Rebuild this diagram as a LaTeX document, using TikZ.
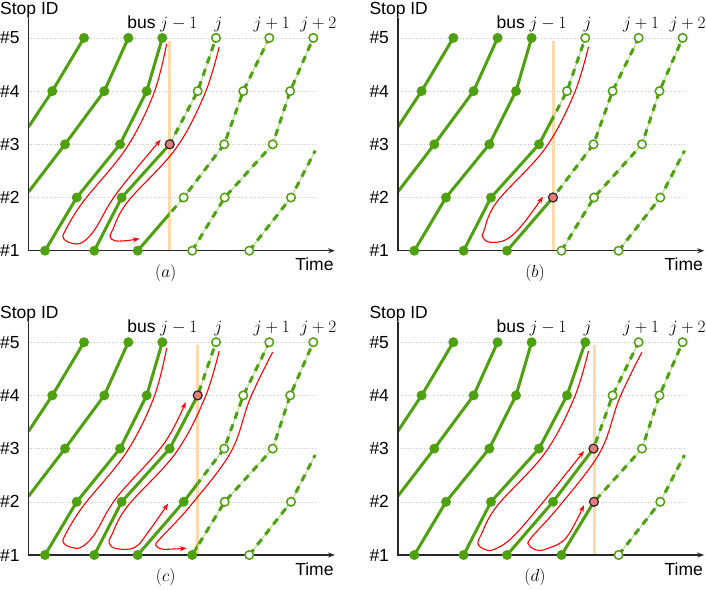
\documentclass[tikz,border=0pt]{standalone}
\usepackage[no-math]{fontspec}
\setmainfont{Liberation Sans}
\usetikzlibrary{arrows.meta}
\definecolor{busgreen}{RGB}{78,160,14}
\definecolor{lightgreen}{RGB}{170,215,130}
\definecolor{cutorange}{RGB}{251,218,172}
\definecolor{dotred}{RGB}{232,124,124}
\definecolor{gridgray}{RGB}{205,205,205}
\definecolor{axisgray}{RGB}{40,40,40}
\def\lev{53.2}
\def\pts{t1-4/23.6/4, t1-5/55.3/5, t2-3/36.3/3, t2-4/75.6/4, t2-5/99.6/5, t3-1/16.3/1, t3-2/48/2, t3-3/91.3/3, t3-4/118/4, t3-5/133.6/5, t4-1/65.6/1, t4-2/93/2, t4-3/141/3, t4-4/169/4, t4-5/187.3/5, t5-1/109/1, t5-2/155/2, t5-3/195.5/3, t5-4/214.6/4, t5-5/240.6/5, t6-1/163.5/1, t6-2/196/2, t6-3/244/3, t6-4/261.5/4, t6-5/284.6/5, t7-1/220.6/1, t7-2/262.3/2}
\tikzset{
  traj/.style={line width=3pt, draw=busgreen, line cap=round, line join=round},
  planunder/.style={line width=0.9pt, draw=lightgreen},
  plandash/.style={line width=3pt, draw=busgreen, dash pattern=on 7pt off 6pt},
  fdot/.style={circle, fill=busgreen, inner sep=0pt, minimum size=10pt},
  odot/.style={circle, draw=busgreen, fill=white, line width=1.5pt, inner sep=0pt, minimum size=8.5pt},
  rdot/.style={circle, draw=black!85, fill=dotred, line width=1.2pt, inner sep=0pt, minimum size=9pt},
  gridline/.style={draw=gridgray, line width=0.6pt, dotted},
  cutline/.style={draw=cutorange, line width=3pt},
  axisline/.style={draw=axisgray, line width=1.2pt, -{Stealth[length=7pt,width=5pt]}},
  redpath/.style={draw=red, line width=1.1pt, -{Stealth[length=7pt,width=5pt]}},
  txt/.style={inner sep=0pt, font=\fontsize{17.5}{20}\selectfont},
  mth/.style={inner sep=0pt, font=\fontsize{16}{19}\selectfont},
  capt/.style={inner sep=0pt, font=\fontsize{18}{20}\selectfont},
}
\newcommand\trips[2]{%
  \draw[#2] (#1-t1-s) -- (#1-t1-4) -- (#1-t1-5);
  \draw[#2] (#1-t2-s) -- (#1-t2-3) -- (#1-t2-4) -- (#1-t2-5);
  \draw[#2] (#1-t3-1) -- (#1-t3-2) -- (#1-t3-3) -- (#1-t3-4) -- (#1-t3-5);
  \draw[#2] (#1-t4-1) -- (#1-t4-2) -- (#1-t4-3) -- (#1-t4-4) -- (#1-t4-5);
  \draw[#2] (#1-t5-1) -- (#1-t5-2) -- (#1-t5-3) -- (#1-t5-4) -- (#1-t5-5);
  \draw[#2] (#1-t6-1) -- (#1-t6-2) -- (#1-t6-3) -- (#1-t6-4) -- (#1-t6-5);
  \draw[#2] (#1-t7-1) -- (#1-t7-2) -- (#1-t7-e);}
\newcommand\mymarker[4]{%
  \pgfmathsetmacro\dd{#3-#4}%
  \ifdim\dd pt<-1.2pt \node[fdot] (#1-#2-m) at (#1-#2) {};%
  \else\ifdim\dd pt>1.2pt \node[odot] (#1-#2-m) at (#1-#2) {};%
  \else \node[rdot] (#1-#2-m) at (#1-#2) {};\fi\fi}
\newcommand\panel[4]{%
\begin{scope}[shift={(#2,#3)}]
  \foreach \k in {2,...,5} \draw[gridline] (0,{(\k-1)*\lev}) -- (286.3,{(\k-1)*\lev});
  \draw[cutline] (#4,0) -- (#4,210);
  \foreach \nm/\xx/\lv in \pts {\coordinate (#1-\nm) at (\xx,{(\lv-1)*\lev});}
  \coordinate (#1-t1-s) at (0,124);
  \coordinate (#1-t2-s) at (0,59);
  \coordinate (#1-t7-e) at (286.5,100);
  \begin{scope}
    \clip (0,-6) rectangle (#4,225);
    \trips{#1}{traj}
  \end{scope}
  \begin{scope}
    \clip (#4,-6) rectangle (300,225);
    \trips{#1}{planunder}
    \trips{#1}{plandash}
  \end{scope}
  \draw[axisline] (0,232.7) -- (0,0) -- (306.3,0);
  \foreach \nm/\xx/\lv in \pts {\mymarker{#1}{\nm}{\xx}{#4}}
  \node[txt, anchor=base west] (#1-stop) at (-28.7,236.5) {Stop ID};
  \foreach \k in {1,...,5} \node[txt, anchor=west] (#1-lab\k) at (-28.7,{(\k-1)*\lev}) {\#\k};
  \node[txt, anchor=base west] (#1-bus) at (98.5,222.4) {bus};
  \node[mth, anchor=base] (#1-jm1) at (150,222.7) {$j-1$};
  \node[mth, anchor=base] (#1-j) at (189.6,222.7) {$j$};
  \node[mth, anchor=base] (#1-jp1) at (243,222.7) {$j+1$};
  \node[mth, anchor=base] (#1-jp2) at (289.6,222.7) {$j+2$};
  \node[txt, anchor=base east] (#1-time) at (305,-20) {Time};
  \node[capt] (#1-cap) at (137,-22.3) {$(#1)$};
\end{scope}}
\begin{document}
\begin{tikzpicture}[x=1pt,y=1pt]
\useasboundingbox (0,-589) rectangle (706,0);
\panel{a}{28.7}{-250.7}{141}
\panel{b}{398}{-250.7}{155}
\panel{c}{28.7}{-555}{169}
\panel{d}{398}{-555}{196}
% red annotation curves
\begin{scope}[shift={(28.7,-250.7)}]
  \draw[redpath] plot[smooth, tension=0.6] coordinates {(138,207) (125,157) (97.6,102.5) (54.5,49) (36.5,20) (35,12) (43,7.5) (53,8) (66,21) (88,57.5) (132,111)};
  \draw[redpath] plot[smooth, tension=0.6] coordinates {(190.5,204) (176,156.6) (147,102) (99,49) (84,21) (81.5,14) (86,10) (97,10) (111,12)};
\end{scope}
\begin{scope}[shift={(398,-250.7)}]
  \draw[redpath] plot[smooth, tension=0.6] coordinates {(190.5,204) (176,156.6) (147,102) (99,49) (86,20) (85,13) (92,8.5) (108,11) (124,25.5) (145,54)};
\end{scope}
\begin{scope}[shift={(28.7,-555)}]
  \draw[redpath] plot[smooth, tension=0.6] coordinates {(138,207) (125,157) (97.6,102.5) (54.5,49) (36.5,20) (35,12) (43,7.5) (53,8) (66,21) (88,57.5) (135,111) (157,153)};
  \draw[redpath] plot[smooth, tension=0.6] coordinates {(190.5,204) (176,156.6) (147,102) (99,49) (83,20) (80.5,12) (87,6.5) (106,7.5) (121,25) (139.5,51.5)};
  \draw[redpath] plot[smooth, tension=0.6] coordinates {(244,203) (221.5,156.7) (202,102.7) (161,48.5) (132,17) (127,10) (133,6) (145,6) (158,6.8)};
\end{scope}
\begin{scope}[shift={(398,-555)}]
  \draw[redpath] plot[smooth, tension=0.6] coordinates {(190.5,204) (176,156.6) (147,102) (99,49) (83,20) (80,11) (87,5.5) (96,5.5) (115,18.3) (149.2,57.9) (186,104)};
  \draw[redpath] plot[smooth, tension=0.6] coordinates {(244,203) (221.5,156.7) (202,102.7) (161,48.5) (133,17) (131,10) (138,5) (148,6) (168,17) (186,50)};
\end{scope}
\end{tikzpicture}
\end{document}
